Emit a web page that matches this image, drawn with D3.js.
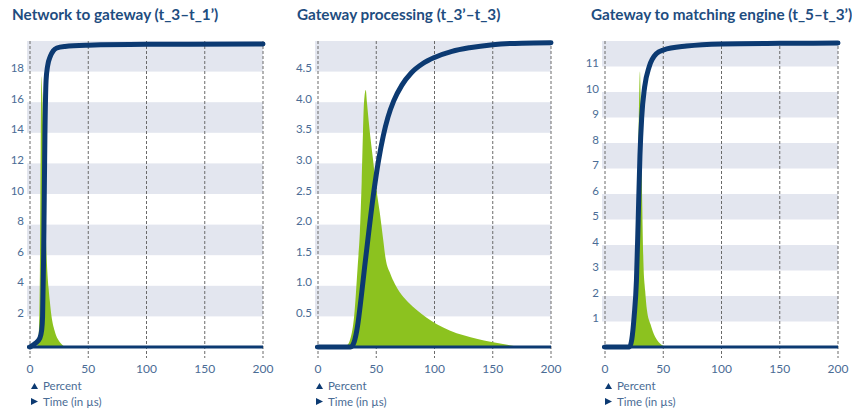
<!DOCTYPE html>
<html>
<head>
<meta charset="utf-8">
<script src="https://cdn.jsdelivr.net/npm/d3@7"></script>
<style>
  body { margin: 0; background: #fff; }
  svg { display: block; }
  text { font-family: Lato, "Open Sans", sans-serif; }
</style>
</head>
<body>
<svg id="chart" width="852" height="411"></svg>
<script>
// Latency distribution per hop: green = share of messages per µs (Percent),
// navy = cumulative distribution, scaled so 100 % sits near the top of each panel.
const panelTitles = [
  "Network to gateway (t_3–t_1’)",
  "Gateway processing (t_3’–t_3)",
  "Gateway to matching engine (t_5–t_3’)"
];
const timeTicks = [0, 50, 100, 150, 200];
const legendLabels = ["Percent", "Time (in µs)"];

// Network to gateway
const netYTicks = [2, 4, 6, 8, 10, 12, 14, 16, 18];
const netYMax = 20;
const netDensityTime = [6, 7.5, 8.5, 9.2, 9.8, 10.5, 11.5, 12.5, 13.5, 14.5, 16, 17, 18.5, 21, 24, 27, 30];
const netDensityPct  = [0, 0.8, 5, 13, 17.7, 16.5, 13.5, 10.5, 7.5, 5.5, 3.8, 3.0, 2.0, 1.1, 0.5, 0.2, 0];
const netCumTime  = [0, 4, 8.5, 10, 10.8, 11.7, 12.8, 13.8, 15, 17.5, 20, 23, 30, 50, 100, 200];
const netCumShare = [0, 1, 3, 5.5, 10, 30, 70, 88, 92.5, 96, 97.8, 98.7, 99.2, 99.6, 99.9, 100];
const netCumTop = 19.8;

// Gateway processing
const gwYTicks = [0.5, 1.0, 1.5, 2.0, 2.5, 3.0, 3.5, 4.0, 4.5];
const gwYMax = 5;
const gwDensityTime = [20, 25, 28, 31, 34, 36, 37.5, 38.6, 39.5, 41, 42, 44, 47, 50, 53, 56, 58, 62, 66, 70, 77, 85, 93, 102, 113, 125, 137, 148, 160, 173];
const gwDensityPct  = [0, 0.03, 0.15, 0.5, 1.3, 1.9, 2.7, 3.5, 4.0, 4.2, 4.0, 3.6, 3.1, 2.6, 2.2, 1.75, 1.45, 1.2, 1.03, 0.9, 0.74, 0.6, 0.48, 0.37, 0.27, 0.19, 0.13, 0.085, 0.045, 0];
const gwCumTime  = [0, 28, 31, 34, 37, 40, 44, 48, 52, 56, 60, 65, 72, 80, 90, 100, 115, 130, 150, 175, 200];
const gwCumShare = [0, 0, 1.6, 7, 16.1, 26.2, 39.2, 51.3, 61.4, 69.4, 75.5, 80.9, 86.1, 90.1, 93.2, 95.2, 97.2, 98.4, 99.4, 99.9, 100];
const gwCumTop = 4.97;

// Gateway to matching engine
const meYTicks = [1, 2, 3, 4, 5, 6, 7, 8, 9, 10, 11];
const meYMax = 12;
const meDensityTime = [22, 25, 27, 28.5, 30, 31, 32, 33, 34.5, 36, 39, 43, 47, 53];
const meDensityPct  = [0, 0.5, 3, 7, 10.8, 8.5, 5.5, 3.3, 2.2, 1.45, 0.9, 0.4, 0.15, 0];
const meCumTime  = [0, 21, 23, 25, 27, 28.5, 30, 31.5, 34, 38, 44, 50, 70, 100, 150, 200];
const meCumShare = [0, 0, 2.5, 10, 22, 42, 63, 75.5, 85.5, 92.3, 96.5, 97.7, 99, 99.7, 99.9, 100];
const meCumTop = 11.92;

const panels = [
  { title: panelTitles[0], yTicks: netYTicks, yMax: netYMax, dT: netDensityTime, dV: netDensityPct,
    cT: netCumTime, cS: netCumShare, cTop: netCumTop, fmt: d3.format("d") },
  { title: panelTitles[1], yTicks: gwYTicks, yMax: gwYMax, dT: gwDensityTime, dV: gwDensityPct,
    cT: gwCumTime, cS: gwCumShare, cTop: gwCumTop, fmt: d3.format(".1f") },
  { title: panelTitles[2], yTicks: meYTicks, yMax: meYMax, dT: meDensityTime, dV: meDensityPct,
    cT: meCumTime, cS: meCumShare, cTop: meCumTop, fmt: d3.format("d") }
];

// layout
const plotLeft = [30, 318, 605];
const titleLeft = [12, 297, 591];
const legendLeft = [31, 316, 605];
const plotWidth = 233;
const plotTop = 41;
const plotBottom = 347;

const NAVY = "#0c3a72";
const GREEN = "#8cc21f";
const BAND = "#e3e6ef";
const TICK_TEXT = "#4a6c95";
const TITLE_TEXT = "#1e4d80";

const svg = d3.select("#chart");

panels.forEach((p, i) => {
  const g = svg.append("g");
  const x = d3.scaleLinear().domain([0, 200]).range([plotLeft[i], plotLeft[i] + plotWidth]);
  const y = d3.scaleLinear().domain([0, p.yMax]).range([plotBottom, plotTop]);
  const cum = d3.scaleLinear().domain([0, 100]).range([0, p.cTop]);
  const step = p.yTicks[1] - p.yTicks[0];

  // title
  g.append("text")
    .attr("x", titleLeft[i]).attr("y", 20)
    .attr("fill", TITLE_TEXT)
    .attr("font-size", 15.3).attr("font-weight", 700)
    .text(p.title);

  // alternating bands, starting at every other tick
  const bandStarts = p.yTicks.filter((d, k) => k % 2 === 0);
  g.selectAll("rect.band").data(bandStarts).join("rect")
    .attr("class", "band")
    .attr("x", x(0) - 3)
    .attr("width", x(200) - x(0) + 3)
    .attr("y", d => y(Math.min(d + step, p.yMax)))
    .attr("height", d => y(d) - y(Math.min(d + step, p.yMax)))
    .attr("fill", BAND);

  // dashed time grid
  g.selectAll("line.grid").data(timeTicks).join("line")
    .attr("class", "grid")
    .attr("x1", d => x(d)).attr("x2", d => x(d))
    .attr("y1", plotTop).attr("y2", plotBottom + 11)
    .attr("stroke", "#6a6a6a").attr("stroke-width", 1)
    .attr("stroke-dasharray", "3,2");

  // y tick labels sit just above their value
  g.selectAll("text.ytick").data(p.yTicks).join("text")
    .attr("class", "ytick")
    .attr("x", x(0) - 6).attr("y", d => y(d) + 0.5)
    .attr("text-anchor", "end")
    .attr("fill", TICK_TEXT).attr("font-size", 11.5)
    .text(d => p.fmt(d));

  // x tick labels
  g.selectAll("text.xtick").data(timeTicks).join("text")
    .attr("class", "xtick")
    .attr("x", d => x(d)).attr("y", 373)
    .attr("text-anchor", "middle")
    .attr("fill", TICK_TEXT).attr("font-size", 12)
    .text(d => d);

  // density area
  const dens = p.dT.map((t, k) => [t, p.dV[k]]);
  g.append("path")
    .datum(dens)
    .attr("d", d3.area().curve(d3.curveMonotoneX)
      .x(d => x(d[0])).y0(y(0)).y1(d => y(d[1])))
    .attr("fill", GREEN);

  // baseline
  g.append("line")
    .attr("x1", x(0) - 3).attr("x2", x(200))
    .attr("y1", y(0)).attr("y2", y(0))
    .attr("stroke", NAVY).attr("stroke-width", 3);

  // cumulative curve
  const cdf = p.cT.map((t, k) => [t, cum(p.cS[k])]);
  g.append("path")
    .datum(cdf)
    .attr("d", d3.line().curve(d3.curveMonotoneX)
      .x(d => x(d[0])).y(d => y(d[1])))
    .attr("fill", "none")
    .attr("stroke", NAVY).attr("stroke-width", 5)
    .attr("stroke-linecap", "round").attr("stroke-linejoin", "round");

  // legend
  const lx = legendLeft[i];
  g.append("path")
    .attr("d", `M${lx},389 L${lx + 7},389 L${lx + 3.5},383 Z`)
    .attr("fill", NAVY);
  g.append("path")
    .attr("d", `M${lx},398 L${lx + 7},401.5 L${lx},405 Z`)
    .attr("fill", NAVY);
  g.append("text")
    .attr("x", lx + 12).attr("y", 390)
    .attr("fill", TICK_TEXT).attr("font-size", 11.5)
    .text(legendLabels[0]);
  g.append("text")
    .attr("x", lx + 12).attr("y", 406)
    .attr("fill", TICK_TEXT).attr("font-size", 11.5)
    .text(legendLabels[1]);
});
</script>
</body>
</html>
